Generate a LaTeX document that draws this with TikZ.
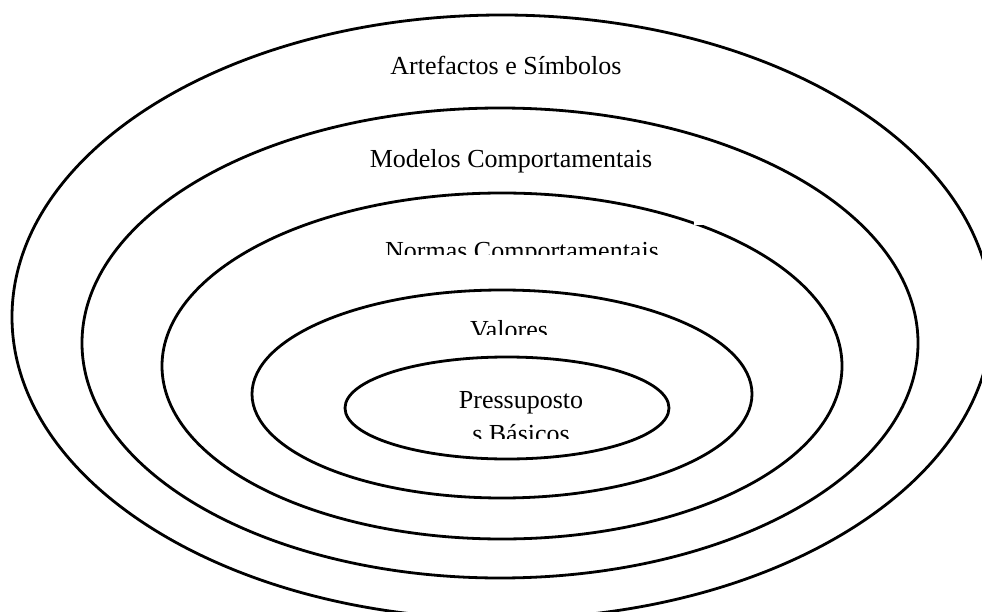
\documentclass[tikz,border=0pt]{standalone}
\usepackage{fontspec}
\setmainfont{Liberation Serif}
\begin{document}
\begin{tikzpicture}[x=1pt,y=-1pt,
  ring/.style={line width=2.8pt},
  lbl/.style={font=\fontsize{26}{32}\selectfont, inner sep=0pt, anchor=base}]
\useasboundingbox[fill=white] (0,0) rectangle (982,612);
\draw[ring] (502,317) ellipse [x radius=490pt, y radius=302pt];
\draw[ring] (500,343) ellipse [x radius=418pt, y radius=235pt];
\draw[ring] (502,366) ellipse [x radius=340pt, y radius=173pt];
\draw[ring] (502,394) ellipse [x radius=250pt, y radius=104pt];
\draw[ring] (507,408) ellipse [x radius=162pt, y radius=51pt];
\node[lbl] (art) at (506,75) {Artefactos e Símbolos};
\node[lbl] (mod) at (511,168) {Modelos Comportamentais};
\begin{scope}
  \clip (300,230) rectangle (720,255);
  \node[lbl] (nor) at (522,260) {Normas Comportamentais};
\end{scope}
\begin{scope}
  \clip (440,300) rectangle (580,334);
  \node[lbl] (val) at (509,338) {Valores};
\end{scope}
\node[lbl] (pre) at (521,408) {Pressuposto};
\begin{scope}
  \clip (440,415) rectangle (600,438);
  \node[lbl] (bas) at (521,442) {s Básicos};
\end{scope}
\fill[white] (694,219) rectangle (705,225);
\end{tikzpicture}
\end{document}
